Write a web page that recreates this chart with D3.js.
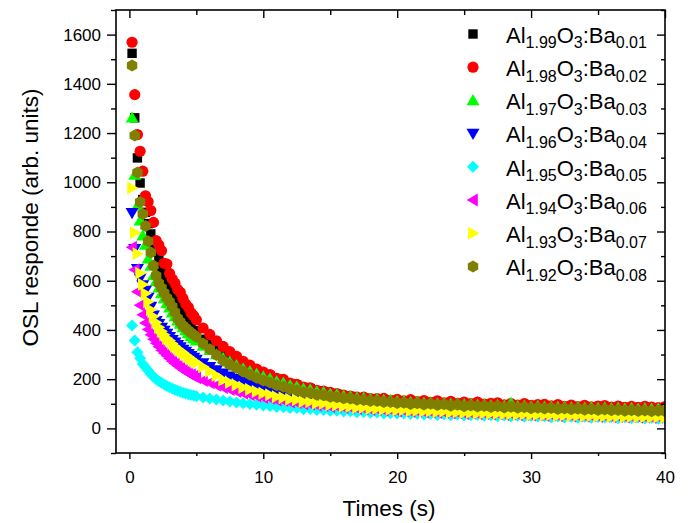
<!DOCTYPE html>
<html>
<head>
<meta charset="utf-8">
<script src="https://cdn.jsdelivr.net/npm/d3@7"></script>
<style>
  body { margin: 0; background: #fff; }
  svg { display: block; font-family: "Liberation Sans", Arial, sans-serif; }
</style>
</head>
<body>
<div id="chart"></div>
<script>
// --- Data ---
const times = [0.2,0.4,0.6,0.8,1.0,1.2,1.4,1.6,1.8,2.0,2.2,2.4,2.6,2.8,3.0,3.2,3.4,3.6,3.8,4.0,4.2,4.4,4.6,4.8,5.0,
  5.5,6,6.5,7,7.5,8,8.5,9,9.5,10,
  10.5,11,11.5,12,12.5,13,13.5,14,14.5,15,
  15.5,16,16.5,17,17.5,18,18.5,19,19.5,20,
  20.5,21,21.5,22,22.5,23,23.5,24,24.5,25,
  25.5,26,26.5,27,27.5,28,28.5,29,29.5,30,
  30.5,31,31.5,32,32.5,33,33.5,34,34.5,35,
  35.5,36,36.5,37,37.5,38,38.5,39,39.5,40];

const seriesNames = ['1.99|0.01','1.98|0.02','1.97|0.03','1.96|0.04','1.95|0.05','1.94|0.06','1.93|0.07','1.92|0.08'];
const seriesColors = ['#000000','#ff0000','#00ff00','#0000ff','#00ffff','#ff00ff','#ffff00','#808000'];
const seriesShapes = ['square','circle','triUp','triDown','diamond','triLeft','triRight','hexagon'];

const ba001 = [1524,1262,1099,997,930,878,832,790,752,716,683,652,622,596,573,548,526,500,475,458,440,424,410,397,385,
  362,343,322,304,288,272,258,245,234,222,
  213,200,194,182,176,166,161,153,149,142,
  139,132,130,124,123,118,118,113,114,110,
  110,107,107,104,105,102,102,99,100,97,
  98,95,96,94,95,92,93,90,92,89,
  90,88,89,86,88,85,86,84,85,83,
  84,82,83,81,82,80,81,79,80,78];
const ba002 = [1569,1356,1194,1126,1045,945,921,885,837,763,745,722,671,668,630,607,590,565,553,528,506,492,470,458,441,
  408,382,356,333,312,293,272,257,241,229,
  219,203,199,184,179,168,165,155,152,146,
  141,135,131,127,127,121,121,122,114,118,
  112,117,109,113,106,112,104,110,102,107,
  101,107,99,102,104,96,101,95,101,94,
  97,98,92,97,90,95,89,94,88,91,
  93,86,91,85,90,85,90,86,84,89];
const ba003 = [1262,1030,905,844,783,745,689,660,621,598,572,548,528,508,490,470,455,438,424,410,398,386,375,365,356,
  335,318,300,285,270,256,243,232,221,210,
  202,191,185,175,170,161,157,150,147,140,
  138,132,130,125,124,119,119,115,115,111,
  111,107,108,104,105,101,102,99,100,97,
  98,95,96,93,94,91,103,90,91,88,
  90,87,88,86,87,84,86,83,85,82,
  84,81,83,80,82,79,81,79,80,82];
const ba004 = [876,730,648,610,582,560,532,495,460,437,425,410,398,385,372,360,350,340,330,320,312,303,295,288,280,
  265,250,237,224,212,201,191,182,174,166,
  160,152,148,140,137,130,128,122,120,115,
  113,108,107,102,101,97,97,93,92,88,
  88,85,85,81,81,78,78,75,76,72,
  73,70,71,68,69,66,67,64,65,62,
  63,60,62,59,60,57,59,56,57,54,
  56,53,54,52,53,50,51,48,47,44];
const ba005 = [418,357,309,285,262,248,235,221,210,200,192,185,178,172,167,162,157,153,149,145,142,139,136,134,131,
  126,121,117,113,109,105,102,99,96,93,
  91,87,86,83,83,78,79,75,75,72,
  72,69,70,66,67,64,65,61,62,60,
  60,58,59,56,58,54,57,53,56,52,
  53,55,51,53,49,52,48,51,47,50,
  48,49,45,48,44,47,43,47,43,46,
  44,45,41,45,41,44,40,43,39,42];
const ba006 = [736,645,555,500,462,428,402,380,362,346,332,318,306,295,284,273,264,255,246,238,231,224,218,212,206,
  195,185,175,166,158,150,143,137,131,126,
  122,115,113,107,105,100,99,94,93,89,
  89,85,85,81,81,77,78,74,75,71,
  72,69,70,67,68,65,66,63,64,61,
  62,59,61,58,59,56,58,55,56,54,
  55,52,54,51,53,50,51,49,50,48,
  49,47,48,46,47,45,46,44,45,43];
const ba007 = [977,795,710,630,585,548,515,482,455,430,411,395,380,366,357,345,334,325,316,308,299,291,283,275,268,
  250,232,215,198,186,176,166,158,150,143,
  137,129,125,118,116,109,108,102,101,96,
  95,90,89,85,85,81,81,78,78,75,
  76,72,73,70,71,68,70,66,67,64,
  65,62,63,60,61,58,59,57,58,55,
  56,54,55,52,54,51,52,50,51,49,
  50,48,49,47,48,46,47,45,46,44];
const ba008 = [1474,1190,1040,920,871,822,760,715,661,620,590,570,550,530,515,495,472,448,432,418,408,398,389,380,372,
  345,322,298,276,259,245,231,218,206,195,
  186,175,169,160,155,147,144,137,135,129,
  127,122,121,116,115,111,111,107,107,103,
  104,99,102,97,100,95,98,92,96,90,
  93,89,91,87,90,85,88,84,86,82,
  84,81,83,79,81,78,80,76,78,75,
  77,74,75,72,74,71,73,70,72,70];

const seriesValues = [ba001, ba002, ba003, ba004, ba005, ba006, ba007, ba008];

const xMajorTicks = [0, 10, 20, 30, 40];
const xMinorTicks = [5, 15, 25, 35];
const yMajorTicks = [0, 200, 400, 600, 800, 1000, 1200, 1400, 1600];
const yMinorTicks = [-100, 100, 300, 500, 700, 900, 1100, 1300, 1500, 1700];

// --- Layout ---
const W = 691, H = 523;
const plot = { left: 116, right: 665, top: 10, bottom: 453 };

const x = d3.scaleLinear().domain([-1, 40]).range([plot.left, plot.right]);
const y = d3.scaleLinear().domain([-100, 1700]).range([plot.bottom, plot.top]);

// marker shapes, centered on 0,0
function shapePath(shape) {
  switch (shape) {
    case 'square': return 'M-4.7,-4.7h9.4v9.4h-9.4Z';
    case 'circle': {
      const p = d3.path(); p.arc(0, 0, 5.6, 0, 2 * Math.PI); p.closePath(); return p.toString();
    }
    case 'triUp': return 'M0,-6.4L6.5,4.8L-6.5,4.8Z';
    case 'triDown': return 'M0,6.4L6.5,-4.8L-6.5,-4.8Z';
    case 'diamond': return 'M0,-6L6,0L0,6L-6,0Z';
    case 'triLeft': return 'M-6.4,0L4.8,-6.5L4.8,6.5Z';
    case 'triRight': return 'M6.4,0L-4.8,-6.5L-4.8,6.5Z';
    case 'hexagon': {
      const pts = d3.range(6).map(i => {
        const a = (-90 + 60 * i) * Math.PI / 180;
        return [6 * Math.cos(a), 6 * Math.sin(a)];
      });
      return 'M' + pts.map(p => p[0].toFixed(2) + ',' + p[1].toFixed(2)).join('L') + 'Z';
    }
  }
}

const svg = d3.select('#chart').append('svg')
  .attr('width', W)
  .attr('height', H);

svg.append('defs').append('clipPath').attr('id', 'plot-clip')
  .append('rect')
  .attr('x', plot.left).attr('y', plot.top)
  .attr('width', plot.right - plot.left).attr('height', plot.bottom - plot.top);

// --- Data points ---
const pointsG = svg.append('g').attr('clip-path', 'url(#plot-clip)');
seriesValues.forEach((vals, i) => {
  const d = shapePath(seriesShapes[i]);
  pointsG.append('g')
    .selectAll('path')
    .data(vals.map((v, j) => [times[j], v]))
    .enter().append('path')
    .attr('d', d)
    .attr('transform', p => `translate(${x(p[0])},${y(p[1])})`)
    .attr('fill', seriesColors[i]);
});

// --- Axes ---
const tickFont = 17;
const axisColor = '#000';

function styleAxis(g) {
  g.select('.domain').remove();
  g.selectAll('line').attr('stroke', axisColor).attr('stroke-width', 1.4);
  g.selectAll('text').attr('font-size', tickFont).attr('fill', '#000')
    .attr('font-family', '"Liberation Sans", Arial, sans-serif');
}

// bottom (outward)
svg.append('g').attr('transform', `translate(0,${plot.bottom})`)
  .call(d3.axisBottom(x).tickValues(xMajorTicks).tickSize(6).tickPadding(12).tickFormat(d3.format('d')))
  .call(styleAxis);
svg.append('g').attr('transform', `translate(0,${plot.bottom})`)
  .call(d3.axisBottom(x).tickValues(xMinorTicks).tickSize(3).tickFormat(''))
  .call(styleAxis);
// top (inward)
svg.append('g').attr('transform', `translate(0,${plot.top})`)
  .call(d3.axisBottom(x).tickValues(xMajorTicks).tickSize(8).tickFormat(''))
  .call(styleAxis);
svg.append('g').attr('transform', `translate(0,${plot.top})`)
  .call(d3.axisBottom(x).tickValues(xMinorTicks).tickSize(5).tickFormat(''))
  .call(styleAxis);
// left (outward)
svg.append('g').attr('transform', `translate(${plot.left},0)`)
  .call(d3.axisLeft(y).tickValues(yMajorTicks).tickSize(9).tickPadding(6).tickFormat(d3.format('d')))
  .call(styleAxis);
svg.append('g').attr('transform', `translate(${plot.left},0)`)
  .call(d3.axisLeft(y).tickValues(yMinorTicks).tickSize(5).tickFormat(''))
  .call(styleAxis);
// right (inward)
svg.append('g').attr('transform', `translate(${plot.right},0)`)
  .call(d3.axisLeft(y).tickValues(yMajorTicks).tickSize(8).tickFormat(''))
  .call(styleAxis);
svg.append('g').attr('transform', `translate(${plot.right},0)`)
  .call(d3.axisLeft(y).tickValues(yMinorTicks).tickSize(4).tickFormat(''))
  .call(styleAxis);

// frame
svg.append('rect')
  .attr('x', plot.left).attr('y', plot.top)
  .attr('width', plot.right - plot.left).attr('height', plot.bottom - plot.top)
  .attr('fill', 'none').attr('stroke', axisColor).attr('stroke-width', 1.6);

// --- Axis titles ---
svg.append('text')
  .attr('x', 389)
  .attr('y', 516)
  .attr('text-anchor', 'middle')
  .attr('font-size', 22.5)
  .text('Times (s)');

svg.append('text')
  .attr('transform', `translate(38,${(plot.top + plot.bottom) / 2 - 14}) rotate(-90)`)
  .attr('text-anchor', 'middle')
  .attr('font-size', 22.5)
  .text('OSL responde (arb. units)');

// --- Legend ---
const legend = svg.append('g');
const legendX = 473, legendTextX = 506, legendY0 = 34, legendStep = 33.2;
seriesNames.forEach((name, i) => {
  const [al, ba] = name.split('|');
  const cy = legendY0 + i * legendStep;
  legend.append('path')
    .attr('d', shapePath(seriesShapes[i]))
    .attr('transform', `translate(${legendX},${cy})`)
    .attr('fill', seriesColors[i]);
  const t = legend.append('text')
    .attr('x', legendTextX)
    .attr('y', cy + 8.7)
    .attr('font-size', 22);
  t.append('tspan').text('Al');
  t.append('tspan').attr('font-size', 16).attr('dy', 5.6).text(al);
  t.append('tspan').attr('dy', -5.6).text('O');
  t.append('tspan').attr('font-size', 16).attr('dy', 5.6).text('3');
  t.append('tspan').attr('dy', -5.6).text(':Ba');
  t.append('tspan').attr('font-size', 16).attr('dy', 5.6).text(ba);
});
</script>
</body>
</html>
